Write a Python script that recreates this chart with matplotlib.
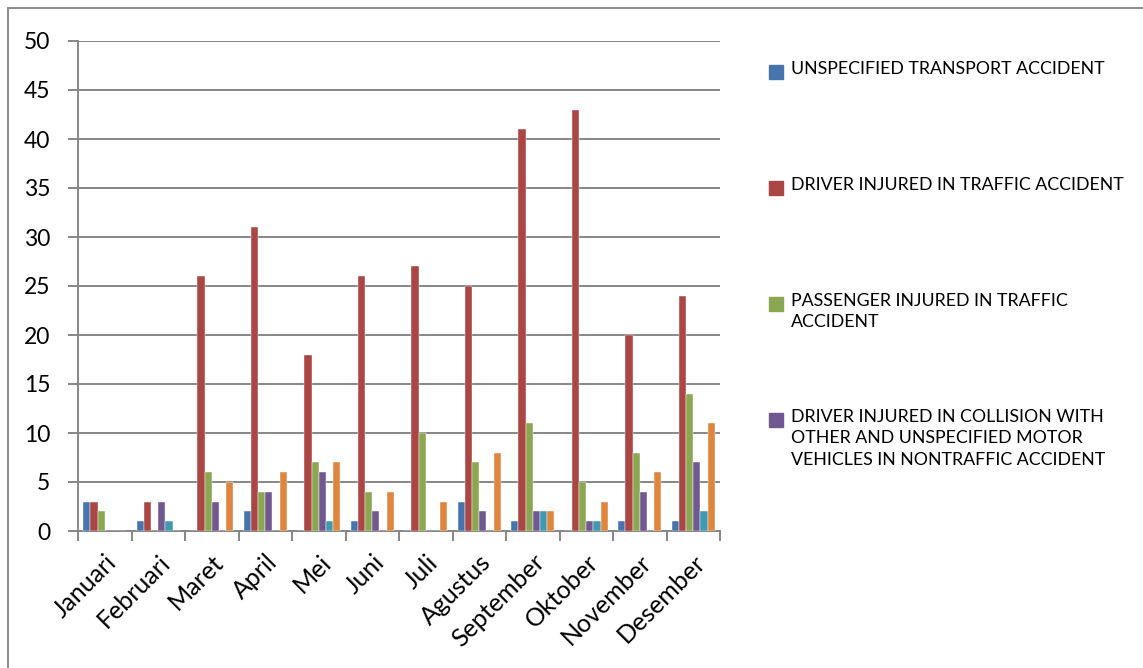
import numpy as np
import matplotlib.pyplot as plt
from matplotlib.patches import Rectangle

plt.rcParams['font.family'] = ['Lato', 'DejaVu Sans']

months = ['Januari', 'Februari', 'Maret', 'April', 'Mei', 'Juni', 'Juli',
          'Agustus', 'September', 'Oktober', 'November', 'Desember']
unspecified = [3, 1, 0, 2, 0, 1, 0, 3, 1, 0, 1, 1]
driver_traffic = [3, 3, 26, 31, 18, 26, 27, 25, 41, 43, 20, 24]
passenger_traffic = [2, 0, 6, 4, 7, 4, 10, 7, 11, 5, 8, 14]
driver_collision = [0, 3, 3, 4, 6, 2, 0, 2, 2, 1, 4, 7]
series5 = [0, 1, 0, 0, 1, 0, 0, 0, 2, 1, 0, 2]
series6 = [0, 0, 5, 6, 7, 4, 3, 8, 2, 3, 6, 11]

series = [unspecified, driver_traffic, passenger_traffic, driver_collision, series5, series6]
colors = ['#4675AD', '#AA4643', '#8BA751', '#725891', '#4199B0', '#DE853E']
legend_labels = ['UNSPECIFIED TRANSPORT ACCIDENT',
                 'DRIVER INJURED IN TRAFFIC ACCIDENT',
                 'PASSENGER INJURED IN TRAFFIC\nACCIDENT',
                 'DRIVER INJURED IN COLLISION WITH\nOTHER AND UNSPECIFIED MOTOR\nVEHICLES IN NONTRAFFIC ACCIDENT']

W, H = 1143, 668
fig = plt.figure(figsize=(W / 100, H / 100), dpi=100)
ax = fig.add_axes([78 / W, 1 - 531 / H, 642 / W, 490 / H])

x = np.arange(len(months))
bw = 1 / 7.5
for i, (vals, c) in enumerate(zip(series, colors)):
    ax.bar(x - 3 * bw + (i + 0.5) * bw, vals, width=bw, color=c,
           edgecolor='white', linewidth=0.3, zorder=3)

grid_c = '#868686'
ax.set_xlim(-0.5, len(months) - 0.5)
ax.set_ylim(0, 50)
ax.set_yticks(range(0, 51, 5))
ax.yaxis.grid(True, color=grid_c, linewidth=1.4, zorder=0)
for s in ['top', 'right']:
    ax.spines[s].set_visible(False)
for s in ['left', 'bottom']:
    ax.spines[s].set_color(grid_c)
    ax.spines[s].set_linewidth(1.4)
ax.tick_params(axis='y', length=7, width=1.4, color=grid_c, labelsize=16.5, pad=13)
ax.set_xticks(x)
ax.set_xticklabels(months, rotation=45, ha='right', rotation_mode='anchor', fontsize=18)
ax.set_xticks(np.arange(-0.5, len(months)), minor=True)
ax.tick_params(axis='x', which='major', length=0, pad=14)
ax.tick_params(axis='x', which='minor', length=7, width=1.4, color=grid_c)

# legend, drawn like the spreadsheet one
for i, (lab, c) in enumerate(zip(legend_labels, colors)):
    ytop = 65 + i * 116
    fig.add_artist(Rectangle((769 / W, 1 - (ytop + 14) / H), 14 / W, 14 / H,
                             transform=fig.transFigure, color=c))
    fig.text(791 / W, 1 - (ytop - 4) / H, lab, fontsize=12.8, va='top',
             linespacing=1.42, color='#000000')

fig.add_artist(Rectangle((8 / W, -0.05), 1.1, 1 - 8 / H + 0.05, transform=fig.transFigure,
                         fill=False, edgecolor='#8a8a8a', linewidth=1.4))

fig.savefig('out.png', dpi=100)
